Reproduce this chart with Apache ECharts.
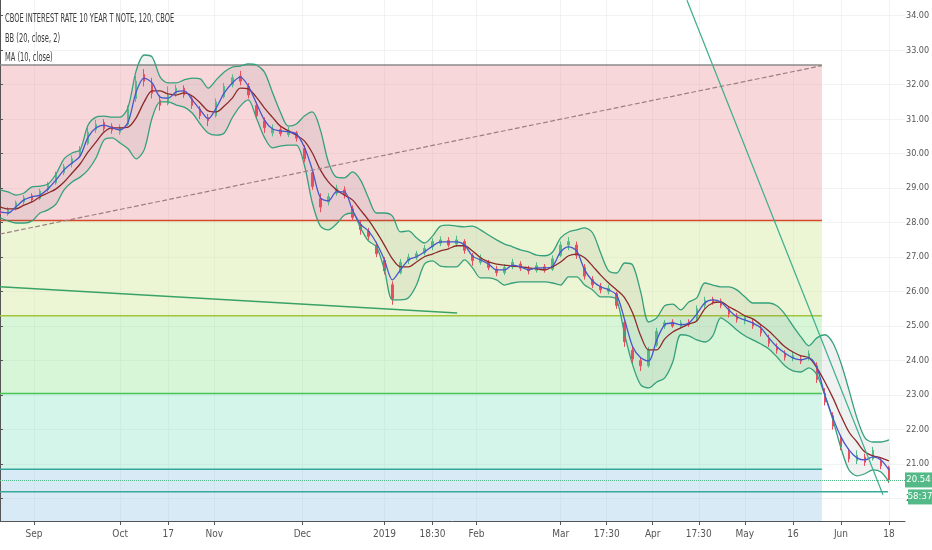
<!DOCTYPE html>
<html>
<head>
    <meta charset="utf-8">
    <title>CBOE INTEREST RATE 10 YEAR T NOTE</title>
    <script src="https://cdn.jsdelivr.net/npm/echarts@6/dist/echarts.min.js"></script>
    <style>
        html, body { margin: 0; padding: 0; background-color: #ffffff; }
        #main { width: 932px; height: 550px; }
    </style>
</head>
<body>
<div id="main"></div>
<script>
    // one sample every 4 bars
    var STEP = 4;

    var upper = [
        28.95, 28.89, 28.80, 28.86, 29.04, 29.06, 29.12, 29.41, 29.85, 30.02,
        30.11, 30.83, 31.06, 31.09, 31.06, 31.06, 31.35, 32.40, 32.86, 32.80,
        32.22, 32.05, 32.05, 32.14, 32.19, 32.17, 31.90, 32.14, 32.37, 32.51,
        32.54, 32.60, 32.57, 32.37, 31.79, 31.21, 30.80, 30.86, 31.09, 31.21,
        30.69, 29.76, 29.32, 29.30, 29.47, 29.24, 28.72, 28.28, 28.28, 28.19,
        27.73, 27.76, 27.56, 27.41, 27.61, 27.90, 27.93, 27.90, 27.88, 27.90,
        27.79, 27.64, 27.50, 27.38, 27.30, 27.21, 27.15, 27.06, 27.04, 27.15,
        27.56, 27.73, 27.79, 27.85, 27.70, 27.12, 26.60, 26.54, 26.83, 26.77,
        25.99, 25.12, 25.24, 25.59, 25.64, 25.47, 25.70, 25.82, 26.25, 26.19,
        26.14, 26.14, 26.05, 25.85, 25.67, 25.67, 25.67, 25.59, 25.35, 25.01,
        24.69, 24.43, 24.66, 24.75, 24.51, 23.93, 23.15, 22.34, 21.76, 21.64,
        21.64, 21.70
    ];
    var lower = [
        28.14, 28.05, 27.99, 27.99, 28.05, 28.28, 28.37, 28.54, 28.95, 29.18,
        29.32, 29.53, 29.88, 30.40, 30.46, 30.31, 30.14, 29.85, 30.11, 31.04,
        31.50, 31.50, 31.41, 31.35, 31.18, 30.86, 30.60, 30.54, 30.60, 31.04,
        31.38, 31.56, 31.04, 30.48, 30.17, 30.22, 30.25, 30.25, 29.67, 28.57,
        27.90, 27.79, 27.96, 28.22, 28.28, 27.85, 27.47, 27.30, 26.63, 25.76,
        25.76, 25.82, 26.19, 26.80, 26.89, 26.74, 26.72, 26.72, 26.92, 26.69,
        26.40, 26.40, 26.34, 26.19, 26.25, 26.28, 26.28, 26.28, 26.28, 26.25,
        26.19, 26.43, 26.43, 26.19, 26.05, 25.85, 25.85, 25.76, 24.75, 23.87,
        23.30, 23.21, 23.38, 23.50, 23.96, 24.75, 24.72, 24.60, 24.54, 24.72,
        25.24, 25.09, 24.89, 24.72, 24.60, 24.48, 24.34, 24.11, 23.85, 23.70,
        23.67, 23.79, 23.59, 22.98, 22.28, 21.47, 20.83, 20.66, 20.72, 20.83,
        20.77, 20.48
    ];
    var basis = [
        28.46, 28.40, 28.40, 28.51, 28.60, 28.75, 28.86, 28.98, 29.18, 29.44,
        29.70, 30.05, 30.34, 30.63, 30.75, 30.75, 30.77, 31.04, 31.50, 31.82,
        31.82, 31.73, 31.70, 31.76, 31.67, 31.47, 31.24, 31.21, 31.38, 31.61,
        31.90, 31.88, 31.64, 31.33, 31.06, 30.80, 30.66, 30.54, 30.37, 30.02,
        29.53, 29.18, 28.95, 28.80, 28.66, 28.37, 28.08, 27.73, 27.35, 26.95,
        26.72, 26.72, 26.86, 27.01, 27.09, 27.18, 27.24, 27.33, 27.33, 27.18,
        26.98, 26.86, 26.80, 26.77, 26.74, 26.72, 26.69, 26.66, 26.63, 26.72,
        26.86, 27.04, 27.09, 26.98, 26.74, 26.48, 26.25, 26.05, 25.82, 25.38,
        24.72, 24.31, 24.31, 24.63, 24.83, 24.95, 25.06, 25.15, 25.50, 25.67,
        25.70, 25.56, 25.44, 25.30, 25.21, 25.04, 24.86, 24.63, 24.40, 24.25,
        24.14, 24.08, 23.79, 23.38, 22.92, 22.40, 21.93, 21.64, 21.35, 21.24,
        21.18, 21.09
    ];
    var ma10 = [
        28.31, 28.28, 28.46, 28.66, 28.75, 28.80, 28.98, 29.24, 29.53, 29.73,
        29.93, 30.48, 30.75, 30.83, 30.75, 30.69, 30.92, 31.79, 32.19, 32.05,
        31.64, 31.61, 31.79, 31.82, 31.56, 31.27, 31.01, 31.33, 31.76, 32.05,
        32.22, 31.96, 31.47, 30.98, 30.72, 30.66, 30.63, 30.57, 30.19, 29.53,
        28.72, 28.63, 28.89, 28.89, 28.37, 27.96, 27.76, 27.41, 26.92, 26.34,
        26.63, 26.92, 27.01, 27.15, 27.32, 27.44, 27.44, 27.44, 27.35, 27.03,
        26.92, 26.80, 26.63, 26.63, 26.77, 26.72, 26.63, 26.69, 26.69, 26.74,
        27.15, 27.30, 27.18, 26.63, 26.31, 26.14, 26.05, 25.90, 25.18, 24.40,
        24.08, 23.99, 24.60, 25.04, 25.09, 25.04, 25.09, 25.35, 25.67, 25.76,
        25.70, 25.47, 25.27, 25.18, 25.09, 24.95, 24.66, 24.40, 24.22, 24.08,
        24.02, 24.08, 23.79, 23.00, 22.34, 21.79, 21.41, 21.18, 21.12, 21.21,
        21.12, 20.83
    ];
    // [open, close, low, high]
    var candles = [
        [28.35, 28.25, 28.18, 28.42], [28.25, 28.38, 28.20, 28.45], [28.40, 28.58, 28.35, 28.64], [28.60, 28.72, 28.52, 28.80],
        [28.78, 28.66, 28.60, 28.85], [28.70, 28.92, 28.65, 28.98], [28.95, 29.10, 28.88, 29.18], [29.15, 29.40, 29.10, 29.48],
        [29.45, 29.62, 29.38, 29.70], [29.70, 29.85, 29.60, 29.95], [29.95, 30.10, 29.88, 30.22], [30.30, 30.62, 30.25, 30.75],
        [30.70, 30.85, 30.60, 30.98], [30.90, 30.72, 30.65, 31.00], [30.80, 30.68, 30.58, 30.88], [30.62, 30.75, 30.55, 30.85],
        [30.85, 31.30, 30.80, 31.40], [31.60, 32.10, 31.50, 32.25], [32.30, 32.10, 31.95, 32.45], [32.00, 31.75, 31.60, 32.20],
        [31.55, 31.40, 31.25, 31.70], [31.45, 31.70, 31.40, 31.95], [31.75, 31.90, 31.65, 32.00], [31.90, 31.70, 31.62, 31.98],
        [31.60, 31.40, 31.30, 31.68], [31.30, 31.10, 31.00, 31.38], [31.05, 30.95, 30.80, 31.15], [31.10, 31.50, 31.05, 31.60],
        [31.65, 31.95, 31.60, 32.05], [32.00, 32.20, 31.92, 32.30], [32.25, 32.10, 31.98, 32.40], [31.95, 31.70, 31.60, 32.05],
        [31.40, 31.10, 31.00, 31.50], [30.95, 30.75, 30.60, 31.05], [30.60, 30.70, 30.50, 30.85], [30.70, 30.58, 30.50, 30.80],
        [30.55, 30.68, 30.48, 30.78], [30.60, 30.45, 30.35, 30.66], [30.15, 29.85, 29.75, 30.25], [29.45, 29.05, 28.95, 29.55],
        [28.70, 28.45, 28.30, 28.85], [28.60, 28.75, 28.50, 28.85], [28.85, 29.00, 28.78, 29.10], [28.95, 28.80, 28.70, 29.05],
        [28.40, 28.15, 28.05, 28.50], [27.95, 27.80, 27.65, 28.05], [27.75, 27.60, 27.50, 27.85], [27.35, 27.10, 27.00, 27.45],
        [26.90, 26.60, 26.50, 27.00], [26.20, 25.80, 25.62, 26.30], [26.55, 26.85, 26.50, 26.95], [26.90, 27.00, 26.80, 27.10],
        [26.98, 27.10, 26.92, 27.18], [27.12, 27.25, 27.05, 27.35], [27.30, 27.45, 27.20, 27.55], [27.40, 27.50, 27.32, 27.60],
        [27.48, 27.35, 27.28, 27.58], [27.38, 27.50, 27.30, 27.62], [27.45, 27.20, 27.10, 27.52], [27.05, 26.90, 26.75, 27.12],
        [26.85, 26.98, 26.78, 27.08], [26.85, 26.70, 26.62, 26.92], [26.65, 26.55, 26.45, 26.75], [26.55, 26.70, 26.48, 26.80],
        [26.72, 26.85, 26.65, 26.95], [26.80, 26.68, 26.60, 26.88], [26.65, 26.60, 26.50, 26.75], [26.62, 26.75, 26.55, 26.85],
        [26.72, 26.62, 26.55, 26.80], [26.65, 26.95, 26.60, 27.05], [27.05, 27.35, 27.00, 27.45], [27.35, 27.45, 27.20, 27.58],
        [27.35, 27.05, 26.95, 27.45], [26.70, 26.45, 26.35, 26.80], [26.35, 26.20, 26.10, 26.45], [26.15, 26.05, 25.95, 26.25],
        [26.00, 26.10, 25.92, 26.20], [25.95, 25.60, 25.50, 26.00], [25.10, 24.55, 24.40, 25.20], [24.30, 24.05, 23.90, 24.40],
        [24.00, 23.85, 23.70, 24.10], [23.85, 24.30, 23.80, 24.40], [24.45, 24.85, 24.40, 24.95], [25.00, 25.10, 24.92, 25.18],
        [25.12, 25.00, 24.95, 25.20], [25.00, 25.10, 24.95, 25.18], [25.10, 25.05, 24.98, 25.20], [25.20, 25.50, 25.15, 25.60],
        [25.60, 25.75, 25.52, 25.85], [25.78, 25.70, 25.62, 25.85], [25.72, 25.60, 25.52, 25.80], [25.50, 25.35, 25.25, 25.58],
        [25.30, 25.20, 25.10, 25.38], [25.15, 25.25, 25.05, 25.32], [25.12, 25.00, 24.92, 25.20], [24.95, 24.80, 24.70, 25.05],
        [24.65, 24.50, 24.40, 24.75], [24.40, 24.30, 24.20, 24.50], [24.20, 24.10, 24.00, 24.30], [24.05, 24.15, 23.98, 24.25],
        [24.05, 23.98, 23.90, 24.15], [24.05, 24.20, 24.00, 24.30], [23.85, 23.45, 23.35, 23.95], [23.05, 22.80, 22.70, 23.20],
        [22.40, 22.10, 22.00, 22.50], [21.75, 21.50, 21.40, 21.85], [21.35, 21.15, 21.05, 21.45], [21.10, 21.25, 21.00, 21.40],
        [21.20, 21.05, 20.95, 21.30], [21.15, 21.40, 21.10, 21.50], [21.10, 20.95, 20.85, 21.20], [20.90, 20.54, 20.45, 20.95]
    ];

    var tickBars = [17, 60, 84, 107, 151, 192, 216, 238, 280, 303, 326, 349, 372, 396, 420, 444];
    var tickLabels = ['Sep', 'Oct', '17', 'Nov', 'Dec', '2019', '18:30', 'Feb', 'Mar', '17:30', 'Apr', '17:30', 'May', '16', 'Jun', '18'];
    var priceTicks = [20, 21, 22, 23, 24, 25, 26, 27, 28, 29, 30, 31, 32, 33, 34];

    // fib retracement 0 / .236 / .382 / .5 / .618 / .786, drawn up to bar 410.5
    var fibLevels = [32.57, 28.06, 25.30, 23.05, 20.85, 17.57];
    var fibEnd = 410.5;
    // trend lines drawn on the chart: [bar, price]
    var trendDashed = [[0, 27.67], [410.5, 32.55]];
    var trendJan = [[0, 26.14], [228.3, 25.38]];
    var trendSteep = [[343.1, 34.45], [441, 20.11]];
    var supportLine = [[0, 20.20], [443.5, 20.20]];
    var lastPrice = 20.54;
    var countdown = '58:37';
    var legendLines = ['CBOE INTEREST RATE 10 YEAR T NOTE, 120, CBOE', 'BB (20, close, 2)', 'MA (10, close)'];

    var FONT = "'Liberation Sans Narrow', 'DejaVu Sans Condensed', 'Roboto', sans-serif";
    var yMin = 19.35, yMax = 34.455, xMax = 452;
    var fibLineColors = ['#8a8a8a', '#d2492c', '#a4c43c', '#45c653', '#35a89b', '#64b5f6'];
    var fibFillColors = ['rgba(238,160,170,0.42)', 'rgba(214,236,160,0.45)', 'rgba(160,230,160,0.42)',
        'rgba(150,232,205,0.42)', 'rgba(160,204,232,0.42)'];

    function pts(arr) {
        return arr.map(function (v, k) { return [k * STEP, v]; });
    }

    var zones = [];
    for (var i = 0; i < fibFillColors.length; i++) {
        zones.push([
            { xAxis: 0, yAxis: fibLevels[i], itemStyle: { color: fibFillColors[i] } },
            { xAxis: fibEnd, yAxis: Math.max(fibLevels[i + 1], yMin) }
        ]);
    }

    var series = [{
        name: 'fib zones',
        type: 'line',
        data: [],
        z: 0,
        silent: true,
        markArea: { silent: true, data: zones }
    }];

    fibLevels.forEach(function (lvl, i) {
        if (lvl < yMin) return;
        series.push({
            type: 'line', z: 1, silent: true, symbol: 'none',
            data: [[0, lvl], [fibEnd, lvl]],
            lineStyle: { color: fibLineColors[i], width: 1.5 }
        });
    });

    // shaded area between the bands
    series.push({
        type: 'custom',
        z: 2,
        silent: true,
        data: [[0, upper[0]]],
        encode: { x: 0, y: 1 },
        renderItem: function (params, api) {
            var top = upper.map(function (v, k) { return api.coord([k * STEP, v]); });
            var bottom = lower.map(function (v, k) { return api.coord([k * STEP, v]); }).reverse();
            return {
                type: 'polygon',
                shape: { points: top.concat(bottom), smooth: 0.3 },
                style: { fill: 'rgba(90,100,100,0.09)', stroke: null }
            };
        }
    });

    series.push({
        name: 'candles',
        type: 'candlestick',
        z: 3,
        barWidth: 2,
        data: candles.map(function (c, k) { return [k * STEP, c[0], c[1], c[2], c[3]]; }),
        encode: { x: 0, y: [1, 2, 3, 4] },
        itemStyle: { color: '#53b987', color0: '#eb4d5c', borderColor: '#53b987', borderColor0: '#eb4d5c', borderWidth: 1 },
        markLine: {
            silent: true,
            symbol: 'none',
            lineStyle: { color: '#53b987', type: 'dotted', width: 1 },
            label: {
                position: 'end',
                distance: 0,
                padding: [17, 0, 0, 0],
                formatter: '{p|' + lastPrice.toFixed(2) + '}\n{s|}{t|' + countdown + '}',
                rich: {
                    p: { backgroundColor: '#53b987', color: '#ffffff', fontSize: 9.5, fontFamily: FONT, width: 23, height: 15, lineHeight: 17, padding: [0, 2], align: 'center' },
                    s: { width: 3, height: 15, lineHeight: 17 },
                    t: { backgroundColor: '#53b987', color: '#ffffff', fontSize: 9.5, fontFamily: FONT, width: 22, height: 15, lineHeight: 17, padding: [0, 1], align: 'center' }
                }
            },
            data: [{ yAxis: lastPrice }]
        }
    });

    [[upper, '#35a07c'], [lower, '#35a07c'], [basis, '#8c2a2a'], [ma10, '#4656cc']].forEach(function (s) {
        series.push({
            type: 'line', z: 4, silent: true, symbol: 'none', smooth: 0.3,
            data: pts(s[0]),
            lineStyle: { color: s[1], width: 1.3 }
        });
    });

    [[trendDashed, '#9b7f82', 'dashed', 1.2], [trendJan, '#3aa266', 'solid', 1.4],
        [trendSteep, '#3eae8c', 'solid', 1.2], [supportLine, '#3aa89b', 'solid', 1.5]].forEach(function (t) {
        series.push({
            type: 'line', z: 5, silent: true, symbol: 'none',
            data: t[0],
            lineStyle: { color: t[1], type: t[2], width: t[3] }
        });
    });

    // chart legend text, squeezed like the screenshot
    var legendTexts = legendLines.map(function (txt, i) {
        return {
            type: 'text',
            x: 5,
            y: 13 + i * 19.5,
            scaleX: 0.62,
            z: 10,
            style: { text: txt, fill: '#3a3a3a', font: '12px ' + FONT }
        };
    });

    var option = {
        animation: false,
        backgroundColor: '#ffffff',
        graphic: legendTexts,
        grid: { left: 0, right: 27, top: 0, bottom: 29, containLabel: false, outerBoundsMode: 'none' },
        xAxis: {
            type: 'value',
            min: 0,
            max: xMax,
            z: 1,
            axisLine: { show: true, lineStyle: { color: '#555555', width: 1 } },
            axisTick: { show: true, length: 4, customValues: tickBars, lineStyle: { color: '#555555' } },
            axisLabel: {
                customValues: tickBars,
                margin: 8,
                color: '#555555',
                fontSize: 10,
                fontFamily: FONT,
                formatter: function (v) {
                    var i = tickBars.indexOf(v);
                    return i < 0 ? '' : tickLabels[i];
                }
            },
            splitLine: { show: true, lineStyle: { color: 'rgba(236,236,236,0.7)', width: 1 } }
        },
        yAxis: {
            type: 'value',
            position: 'right',
            min: yMin,
            max: yMax,
            splitNumber: 15,
            z: 1,
            axisLine: { show: true, lineStyle: { color: '#555555', width: 1 } },
            axisTick: { show: true, length: 3, customValues: priceTicks, lineStyle: { color: '#555555' } },
            axisLabel: {
                customValues: priceTicks,
                margin: 1,
                color: '#555555',
                fontSize: 9,
                fontFamily: FONT,
                formatter: function (v) { return v.toFixed(2); }
            },
            splitLine: { show: true, lineStyle: { color: 'rgba(236,236,236,0.7)', width: 1 } }
        },
        series: series
    };

    var chart = echarts.init(document.getElementById('main'));
    chart.setOption(option);
</script>
</body>
</html>
